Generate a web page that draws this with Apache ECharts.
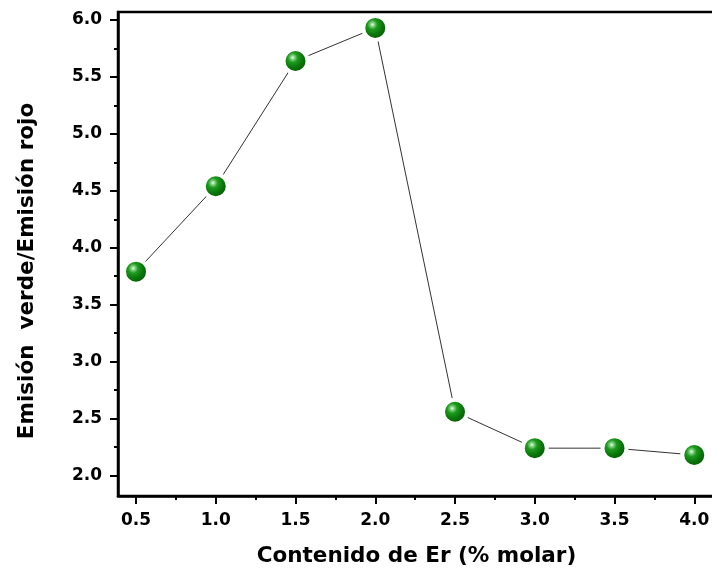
<!DOCTYPE html>
<html>
<head>
<meta charset="utf-8">
<script src="https://cdn.jsdelivr.net/npm/echarts@6/dist/echarts.min.js"></script>
<style>
html,body{margin:0;padding:0;background:#fff;overflow:hidden;}
#chart{width:712px;height:578px;}
</style>
</head>
<body>
<div id="chart"></div>
<script>
var xValues = [0.5, 1.0, 1.5, 2.0, 2.5, 3.0, 3.5, 4.0];
var yValues = [3.79, 4.54, 5.64, 5.93, 2.56, 2.24, 2.24, 2.18];
var xTickLabels = [0.5, 1.0, 1.5, 2.0, 2.5, 3.0, 3.5, 4.0];
var xMinorTicks = [0.75, 1.25, 1.75, 2.25, 2.75, 3.25, 3.75];
var yTickLabels = [2.0, 2.5, 3.0, 3.5, 4.0, 4.5, 5.0, 5.5, 6.0];
var yMinorTicks = [2.25, 2.75, 3.25, 3.75, 4.25, 4.75, 5.25, 5.75];
var xTitle = 'Contenido de Er (% molar)';
var yTitle = 'Emisión  verde/Emisión rojo';

var FONT = '"DejaVu Sans", "Liberation Sans", sans-serif';
var X_MIN = 0.387, X_MAX = 4.13, Y_MIN = 1.82, Y_MAX = 6.07;

var chart = echarts.init(document.getElementById('chart'));
var data = xValues.map(function (x, i) { return [x, yValues[i]]; });

function fmt(v) { return Number(v).toFixed(1); }

chart.setOption({
  animation: false,
  backgroundColor: '#fff',
  grid: {
    left: 118, width: 597, top: 12, bottom: 82,
    containLabel: false, outerBoundsMode: 'none',
    show: true, borderColor: '#000', borderWidth: 2.5, backgroundColor: 'transparent'
  },
  xAxis: [{
    type: 'value', min: X_MIN, max: X_MAX,
    name: xTitle, nameLocation: 'middle', nameGap: 49,
    nameTextStyle: { fontFamily: FONT, fontWeight: 'bold', fontSize: 21.5, color: '#000' },
    axisLine: { show: true, onZero: false, lineStyle: { color: '#000', width: 2.5 } },
    axisTick: { show: true, length: 8, lineStyle: { color: '#000', width: 2 }, customValues: xTickLabels },
    axisLabel: { fontFamily: FONT, fontWeight: 'bold', fontSize: 17, color: '#000', margin: 16,
      customValues: xTickLabels, formatter: fmt },
    splitLine: { show: false }
  }, {
    type: 'value', min: X_MIN, max: X_MAX, position: 'bottom',
    axisLine: { show: false, onZero: false },
    axisTick: { show: true, length: 4, lineStyle: { color: '#000', width: 2 }, customValues: xMinorTicks },
    axisLabel: { show: false },
    splitLine: { show: false }
  }],
  yAxis: [{
    type: 'value', min: Y_MIN, max: Y_MAX,
    name: yTitle, nameLocation: 'middle', nameGap: 80, nameRotate: 90,
    nameTextStyle: { fontFamily: FONT, fontWeight: 'bold', fontSize: 21.5, color: '#000', padding: [0, 34, 0, 0] },
    axisLine: { show: true, onZero: false, lineStyle: { color: '#000', width: 2.5 } },
    axisTick: { show: true, length: 8, lineStyle: { color: '#000', width: 2 }, customValues: yTickLabels },
    axisLabel: { fontFamily: FONT, fontWeight: 'bold', fontSize: 17, color: '#000', margin: 16,
      customValues: yTickLabels, formatter: fmt },
    splitLine: { show: false }
  }, {
    type: 'value', min: Y_MIN, max: Y_MAX, position: 'left',
    axisLine: { show: false, onZero: false },
    axisTick: { show: true, length: 4, lineStyle: { color: '#000', width: 2 }, customValues: yMinorTicks },
    axisLabel: { show: false },
    splitLine: { show: false }
  }],
  series: [{
    type: 'line',
    data: data,
    xAxisIndex: 0, yAxisIndex: 0,
    symbol: 'circle',
    symbolSize: 24,
    lineStyle: { color: '#333', width: 1 },
    itemStyle: {
      color: new echarts.graphic.RadialGradient(0.4, 0.38, 0.5, [
        { offset: 0, color: '#f4fff4' },
        { offset: 0.12, color: '#8fd88f' },
        { offset: 0.35, color: '#1f9a1f' },
        { offset: 0.7, color: '#0b780b' },
        { offset: 1, color: '#066006' }
      ]),
      borderColor: '#fff',
      borderWidth: 4
    },
    z: 3
  }]
});
</script>
</body>
</html>
